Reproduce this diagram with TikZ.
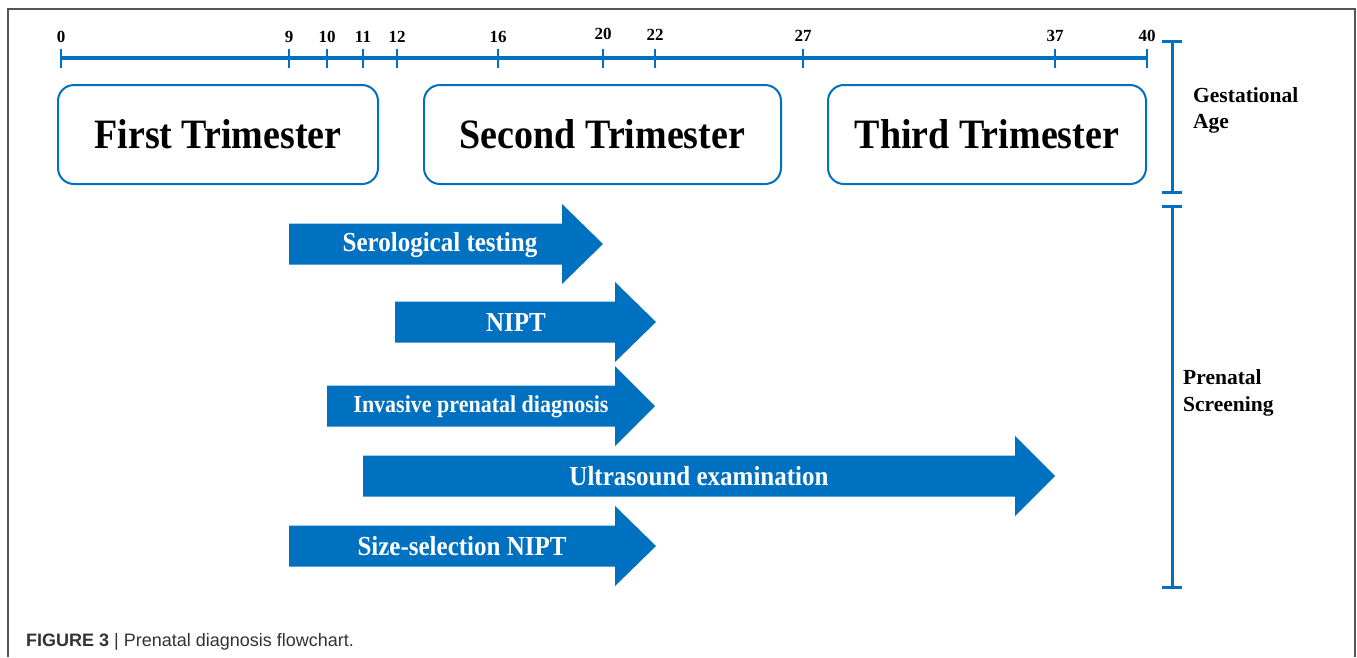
\documentclass[tikz,border=0pt]{standalone}
\usepackage{fontspec}
\usepackage{graphicx}
\setmainfont{Liberation Serif}
\newfontfamily\capfont{Liberation Sans}
\definecolor{tlblue}{HTML}{0070C0}
\definecolor{framegray}{HTML}{555555}
\definecolor{captext}{HTML}{333333}
\newcommand\tallbox[1]{\scalebox{1}[1.1]{#1}}
\begin{document}
\begin{tikzpicture}[x=1pt,y=-1pt,
  axisline/.style={draw=tlblue,line width=3.2pt},
  tickline/.style={draw=tlblue,line width=2.8pt},
  ticklabel/.style={anchor=base,inner sep=0pt,font=\fontsize{17}{17}\selectfont\bfseries},
  tribox/.style={draw=tlblue,line width=2pt,rounded corners=16pt,fill=white},
  tritext/.style={anchor=center,inner sep=0pt,font=\fontsize{38}{38}\selectfont\bfseries},
  bracketline/.style={draw=tlblue,line width=3pt},
  sidelabel/.style={anchor=base west,inner sep=0pt,font=\fontsize{21.5}{26}\selectfont\bfseries},
  arrowfill/.style={fill=tlblue},
  arrowtext/.style={anchor=center,inner sep=0pt,text=white,font=\fontsize{25}{25}\selectfont\bfseries},
]
\useasboundingbox (0,0) rectangle (1357,657);
\fill[white] (0,0) rectangle (1357,657);
% frame
\draw[framegray,line width=1.4pt] (8,657) -- (8,9) -- (1355,9) -- (1355,657);

% axis
\coordinate (a0) at (61,58);
\coordinate (a40) at (1147,58);
\draw[axisline] (a0) -- (a40);
\foreach \w/\x/\yl in {0/61/42,9/289/42,10/327/42,11/363/42,12/397/42,16/498/42,20/603/39,22/655/40,27/803/41,37/1055/41,40/1147/41}{
  \coordinate (t\w top) at (\x,49);
  \coordinate (t\w bot) at (\x,68);
  \draw[tickline] (t\w top) -- (t\w bot);
  \node[ticklabel] (l\w) at (\x,\yl) {\w};
}

% trimester boxes
\draw[tribox] (58,85) rectangle (378,184);
\node[tritext] (first) at (218,134) {\tallbox{First Trimester}};
\draw[tribox] (424,85) rectangle (781,184);
\node[tritext] (second) at (602.5,134) {\tallbox{Second Trimester}};
\draw[tribox] (828,85) rectangle (1146,184);
\node[tritext] (third) at (987,134) {\tallbox{Third Trimester}};

% right brackets
\coordinate (g1) at (1172,41);
\coordinate (g2) at (1172,192);
\draw[bracketline] (g1) -- (g2);
\draw[bracketline] (1162,41) -- (1182,41);
\draw[bracketline] (1162,192) -- (1182,192);
\node[sidelabel] (ga1) at (1193,102) {Gestational};
\node[sidelabel] (ga2) at (1193,128) {Age};

\coordinate (p1) at (1172,206);
\coordinate (p2) at (1172,587);
\draw[bracketline] (p1) -- (p2);
\draw[bracketline] (1162,206) -- (1182,206);
\draw[bracketline] (1162,587) -- (1182,587);
\node[sidelabel] (ps1) at (1183,384) {Prenatal};
\node[sidelabel] (ps2) at (1183,411) {Screening};

% block arrows: left, head base, tip, centre y
\newcommand\blockarrow[4]{%
  \fill[arrowfill] (#1,#4-20.5) -- (#2,#4-20.5) -- (#2,#4-40) -- (#3,#4)
     -- (#2,#4+40) -- (#2,#4+20.5) -- (#1,#4+20.5) -- cycle;}
\blockarrow{289}{562}{603}{244}
\node[arrowtext] (sero) at (440,245) {\tallbox{Serological testing}};
\blockarrow{395}{615}{656}{322}
\node[arrowtext] (nipt) at (516,322) {\tallbox{NIPT}};
\blockarrow{327}{615}{655}{406}
\node[arrowtext,font=\fontsize{22}{22}\selectfont\bfseries] (inva) at (481,407) {\tallbox{Invasive prenatal diagnosis}};
\blockarrow{363}{1015}{1055}{476}
\node[arrowtext] (ultra) at (699,476) {\tallbox{Ultrasound examination}};
\blockarrow{289}{615}{656}{546}
\node[arrowtext] (size) at (462,546) {\tallbox{Size-selection NIPT}};

% caption
\node[anchor=base west,inner sep=0pt,text=captext,font=\capfont\fontsize{18}{18}\selectfont] (cap) at (26,646)
  {\textbf{FIGURE 3} | Prenatal diagnosis flowchart.};
\end{tikzpicture}
\end{document}
